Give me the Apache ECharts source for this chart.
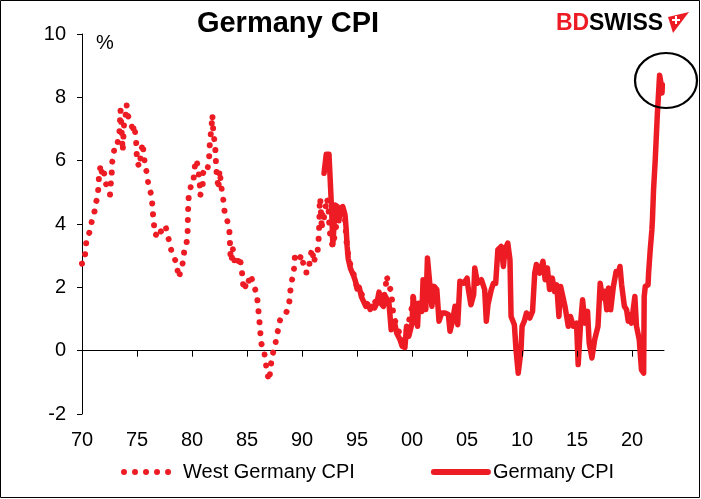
<!DOCTYPE html>
<html>
<head>
<meta charset="utf-8">
<script src="https://cdn.jsdelivr.net/npm/echarts@6/dist/echarts.min.js"></script>
<style>
html,body{margin:0;padding:0;background:#fff;}
#chart{width:701px;height:499px;}
</style>
</head>
<body>
<div id="chart"></div>
<script>
// ---- data ----
var xTickYears = [1970, 1975, 1980, 1985, 1990, 1995, 2000, 2005, 2010, 2015, 2020];
var yTicks = [-2, 0, 2, 4, 6, 8, 10];

var westYears = [1970.0,1970.2,1970.3,1970.4,1970.7,1970.9,1971.1,1971.2,1971.4,1971.5,1971.55,1971.7,1971.85,1972.0,1972.15,1972.3,1972.45,1972.55,1972.6,1972.7,1972.75,1972.85,1973.0,1973.2,1973.4,1973.45,1973.5,1973.7,1973.75,1973.8,1973.97,1974.05,1974.2,1974.35,1974.5,1974.65,1974.7,1974.9,1974.95,1975.0,1975.2,1975.5,1975.6,1975.7,1975.9,1976.05,1976.35,1976.4,1976.5,1976.6,1976.7,1977.0,1977.25,1977.6,1977.85,1978.1,1978.3,1978.5,1978.7,1978.8,1979.05,1979.2,1979.3,1979.5,1979.6,1979.62,1979.65,1979.7,1979.9,1980.1,1980.2,1980.3,1980.4,1980.6,1980.7,1980.75,1980.97,1981.0,1981.2,1981.4,1981.55,1981.6,1981.7,1981.8,1981.85,1981.9,1982.0,1982.1,1982.15,1982.2,1982.3,1982.4,1982.5,1982.6,1982.7,1982.85,1982.95,1983.2,1983.4,1983.45,1983.5,1983.6,1983.7,1983.85,1984.05,1984.3,1984.5,1984.6,1984.7,1984.9,1985.0,1985.3,1985.6,1985.9,1986.0,1986.1,1986.2,1986.25,1986.55,1986.7,1986.85,1987.0,1987.15,1987.25,1987.55,1987.7,1987.85,1988.0,1988.4,1988.8,1988.9,1989.0,1989.15,1989.3,1989.35,1989.65,1989.97,1990.1,1990.3,1990.6,1990.7,1990.9,1991.1,1991.2,1991.4,1991.5,1991.55,1991.58,1991.6,1991.65,1991.8,1991.85,1991.95,1992.1,1992.25,1992.4,1992.45,1992.5,1992.6,1992.8,1992.95,1993.2,1993.4,1993.7,1993.9,1994.1,1994.4,1994.7,1995.0,1995.4,1995.8,1996.2,1996.6,1997.0,1997.4,1997.6,1997.7,1997.85,1998.1,1998.3,1998.6,1998.9,1999.1,1999.4,1999.7,2000.0,2000.2];
var westValues = [2.75,2.77,3.1,3.47,3.76,4.1,4.26,4.64,4.8,5.18,5.56,5.88,5.5,5.64,5.3,5.15,5.2,4.93,5.2,5.6,5.96,6.17,6.5,6.5,6.88,7.24,7.6,6.3,6.66,7.07,7.45,7.77,7.4,7.4,7.13,6.87,7.13,6.76,6.38,6.0,5.8,6.56,6.24,5.95,5.58,5.21,4.87,4.5,4.14,3.77,3.64,3.87,3.72,3.92,3.56,3.19,2.98,2.84,2.5,2.3,2.64,2.82,3.17,3.38,3.74,4.11,4.5,4.87,5.2,5.24,5.66,5.95,6.03,5.66,5.3,4.9,5.24,5.6,5.77,5.71,6.06,6.45,6.82,7.19,7.45,7.08,6.72,6.5,6.14,5.75,5.4,5.1,5.7,5.4,5.1,4.75,4.42,4.11,3.75,3.38,2.98,2.82,3.24,2.85,2.68,2.98,2.64,2.27,1.9,2.08,2.0,2.4,2.1,1.75,1.4,1.03,0.66,0.27,0.0,-0.39,-0.73,-0.95,-0.55,-0.2,0.14,0.5,0.68,0.96,1.08,1.38,1.75,2.1,2.32,2.66,2.96,2.82,3.03,2.77,2.47,2.47,2.85,3.22,2.77,3.03,3.08,3.47,3.84,4.22,4.59,4.82,3.82,4.3,4.08,4.45,4.82,4.56,4.14,3.87,3.5,3.29,3.6,4.14,4.5,4.4,4.2,3.2,2.7,2.4,2.0,1.8,1.5,1.4,1.5,1.8,1.6,2.0,2.37,2.06,1.9,1.1,0.8,0.5,0.3,0.5,0.9,1.4,1.9];

var gerYears = [1992.0,1992.2,1992.45,1992.6,1992.7,1992.8,1992.9,1993.0,1993.2,1993.35,1993.5,1993.7,1993.9,1994.0,1994.1,1994.2,1994.4,1994.7,1994.85,1995.0,1995.2,1995.4,1995.6,1995.8,1996.0,1996.2,1996.4,1996.6,1996.8,1997.0,1997.15,1997.4,1997.6,1997.9,1998.0,1998.1,1998.4,1998.6,1998.9,1999.1,1999.35,1999.5,1999.7,2000.0,2000.1,2000.35,2000.5,2000.6,2000.9,2001.0,2001.25,2001.4,2001.55,2001.8,2002.0,2002.25,2002.45,2002.7,2003.0,2003.3,2003.45,2003.7,2003.9,2004.15,2004.35,2004.7,2005.0,2005.1,2005.35,2005.6,2005.7,2005.95,2006.3,2006.6,2006.75,2006.9,2007.2,2007.4,2007.6,2007.8,2008.1,2008.3,2008.45,2008.7,2008.9,2009.0,2009.3,2009.45,2009.65,2009.9,2010.0,2010.2,2010.4,2010.55,2010.7,2010.95,2011.15,2011.3,2011.6,2011.9,2012.1,2012.3,2012.5,2012.75,2012.95,2013.15,2013.35,2013.5,2013.9,2014.2,2014.4,2014.65,2014.95,2015.1,2015.3,2015.5,2015.7,2015.95,2016.1,2016.35,2016.6,2016.9,2017.1,2017.3,2017.5,2017.7,2017.85,2018.05,2018.3,2018.55,2018.75,2018.9,2019.05,2019.3,2019.5,2019.65,2019.8,2019.95,2020.25,2020.4,2020.65,2020.85,2021.05,2021.1,2021.2,2021.45,2021.5,2021.65,2021.8,2021.85,2021.95,2022.0,2022.1,2022.3,2022.5,2022.6,2022.7,2022.72,2022.75];
var gerValues = [5.6,6.2,6.2,5.1,4.35,3.35,3.9,4.6,4.55,4.1,4.5,4.55,4.3,3.9,3.3,2.9,2.6,2.35,2.2,1.95,2.0,1.7,1.55,1.4,1.45,1.3,1.4,1.35,1.5,1.85,1.5,1.4,1.7,1.5,1.1,0.66,0.9,0.56,0.35,0.14,0.1,0.77,0.45,0.87,1.71,1.08,0.77,1.5,1.24,2.24,1.3,2.93,2.35,1.4,2.03,1.93,0.93,1.19,1.19,1.14,0.61,0.98,1.4,0.82,2.19,2.13,2.29,1.98,1.45,1.77,2.61,2.13,2.24,1.93,0.93,1.45,1.93,2.13,2.13,3.19,3.29,2.66,3.19,3.4,2.87,1.08,0.82,0.03,-0.71,0.0,0.77,0.93,1.19,1.14,1.03,1.24,2.45,2.72,2.45,2.82,2.24,2.61,1.93,2.29,1.87,2.08,1.08,2.03,1.4,0.77,1.08,0.77,0.87,-0.44,0.77,1.61,0.87,1.24,0.24,-0.23,0.35,0.77,2.13,1.66,1.87,1.29,1.98,1.29,2.03,2.5,2.45,2.66,2.08,1.4,1.29,0.93,1.14,0.87,1.71,0.77,0.35,-0.6,-0.71,1.71,2.03,2.08,2.45,3.19,3.82,4.14,5.08,5.1,6.0,7.5,8.7,8.5,8.56,8.14,8.4];

function zip(xs, ys) { return xs.map(function (x, i) { return [x, ys[i]]; }); }

var RED = '#ED1C24';
var FONT = "'Liberation Sans', Arial, sans-serif";
var X_MIN = 1970, X_MAX = 2022.9;
var TICK_DEPTH = 0.19; // tick length below the zero line, in y units (~6px)

var chart = echarts.init(document.getElementById('chart'), null, {renderer: 'canvas'});

function yy(v) {
  var r = Math.round(v);
  if (Math.abs(v - r) > 1e-6 || r % 5 !== 0) return '';
  var s = String(r % 100);
  return s.length < 2 ? '0' + s : s;
}

// x-axis ticks hanging from the zero line (at the labelled years only)
var tickLines = xTickYears.slice(1).map(function (yr) {
  return [{coord: [yr, 0]}, {coord: [yr, -TICK_DEPTH]}];
});

var option = {
  animation: false,
  backgroundColor: '#fff',
  textStyle: {fontFamily: FONT},
  title: {
    text: 'Germany CPI',
    left: 283, top: 4, textAlign: 'center',
    textStyle: {fontFamily: FONT, fontSize: 29, fontWeight: 'bold', color: '#000'}
  },
  grid: {left: 82, right: 37, top: 34, bottom: 85, containLabel: false},
  xAxis: [{
    type: 'value', min: X_MIN, max: X_MAX, interval: 5,
    axisLine: {show: true, onZero: true, lineStyle: {color: '#000', width: 1}},
    axisTick: {show: false},
    axisLabel: {show: false},
    splitLine: {show: false}
  }, {
    type: 'value', min: X_MIN, max: X_MAX, interval: 5, position: 'bottom',
    axisLine: {show: false, onZero: false},
    axisTick: {show: false},
    axisLabel: {
      show: true, margin: 16, fontSize: 20, color: '#000', fontFamily: FONT,
      customValues: xTickYears,
      showMaxLabel: true, showMinLabel: true,
      formatter: yy
    },
    splitLine: {show: false}
  }],
  yAxis: {
    type: 'value', min: yTicks[0], max: yTicks[yTicks.length - 1], interval: 2,
    axisLine: {show: true, lineStyle: {color: '#000', width: 1}},
    axisTick: {show: true, length: 5, lineStyle: {color: '#000'}},
    axisLabel: {margin: 16, fontSize: 20, color: '#000', fontFamily: FONT},
    splitLine: {show: false}
  },
  legend: {
    bottom: 12, left: 116, itemGap: 76, itemWidth: 54, itemHeight: 12,
    textStyle: {fontSize: 20, color: '#000', fontFamily: FONT},
    itemStyle: {opacity: 0},
    lineStyle: {width: 6},
    data: ['West Germany CPI', 'Germany CPI']
  },
  series: [{
    name: 'West Germany CPI', type: 'line', xAxisIndex: 0,
    data: zip(westYears, westValues),
    symbol: 'none', showSymbol: false, smooth: false,
    lineStyle: {color: RED, width: 6, type: [0.01, 11], cap: 'round'},
    itemStyle: {color: RED},
    z: 2
  }, {
    name: 'Germany CPI', type: 'line', xAxisIndex: 0,
    data: zip(gerYears, gerValues),
    symbol: 'none', showSymbol: false,
    lineStyle: {color: RED, width: 5.5, join: 'round', cap: 'round'},
    itemStyle: {color: RED},
    markLine: {
      silent: true, symbol: ['none', 'none'], animation: false,
      label: {show: false},
      lineStyle: {color: '#000', width: 1, type: 'solid'},
      emphasis: {disabled: true},
      data: tickLines
    },
    z: 3
  }],
  graphic: [
    {type: 'rect', shape: {x: 0.5, y: 0.5, width: 699, height: 497}, style: {fill: 'none', stroke: '#000', lineWidth: 1}, silent: true, z: 100},
    {type: 'text', left: 96, top: 33, style: {text: '%', fontSize: 20, fontFamily: FONT, fill: '#000'}},
    {type: 'text', x: 556, y: 24, style: {text: 'BD', fontSize: 23, fontWeight: 'bold', fontFamily: FONT, fill: RED, verticalAlign: 'middle'}},
    {type: 'text', x: 589, y: 24, style: {text: 'SWISS', fontSize: 23, fontWeight: 'bold', fontFamily: FONT, fill: '#000', verticalAlign: 'middle'}},
    {type: 'polygon', shape: {points: [[668, 17], [689, 12], [673, 33]]}, style: {fill: RED}},
    {type: 'line', shape: {x1: 672, y1: 20, x2: 680, y2: 20}, style: {stroke: '#fff', lineWidth: 2}},
    {type: 'line', shape: {x1: 676, y1: 16, x2: 676, y2: 24}, style: {stroke: '#fff', lineWidth: 2}},
    {type: 'circle', x: 666, y: 80.5, scaleX: 31 / 27.5, shape: {cx: 0, cy: 0, r: 27.5}, style: {fill: 'none', stroke: '#000', lineWidth: 2, strokeNoScale: true}, z: 50}
  ]
};
chart.setOption(option);
</script>
</body>
</html>
